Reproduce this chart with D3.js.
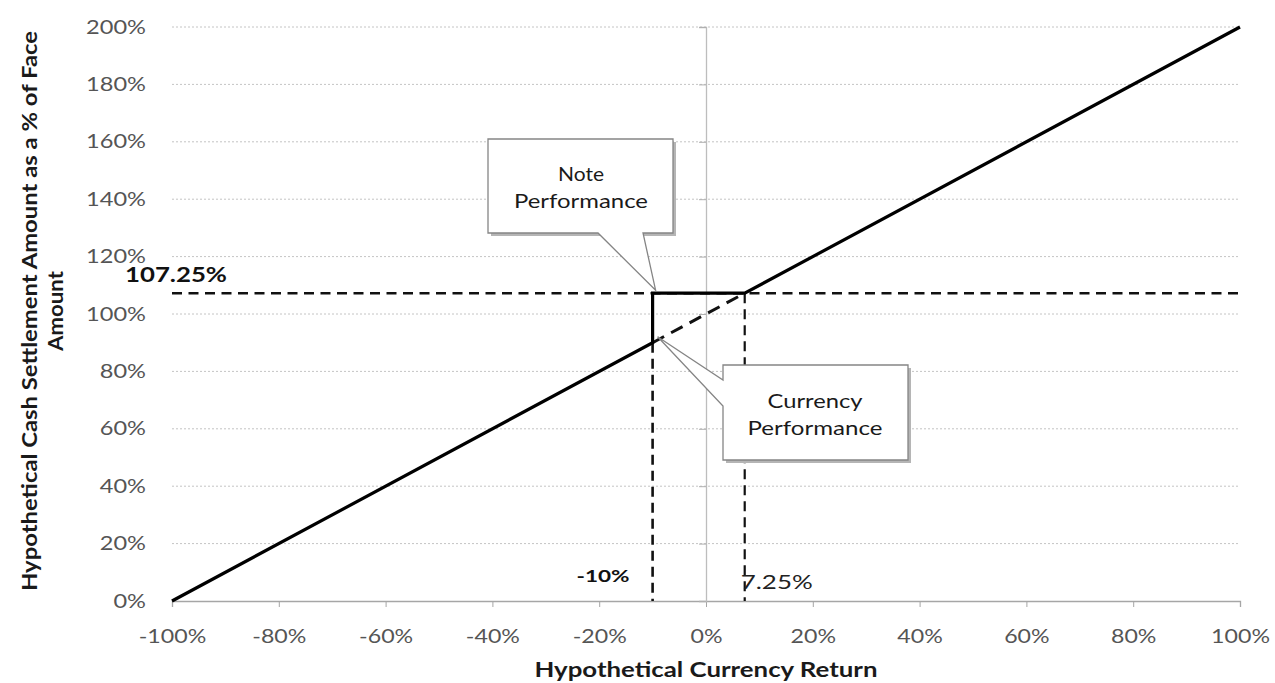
<!DOCTYPE html>
<html>
<head>
<meta charset="utf-8">
<script src="https://cdn.jsdelivr.net/npm/d3@7"></script>
<style>
  html, body { margin: 0; padding: 0; background: #fff; }
  svg { display: block; }
  text { font-family: Lato, "Open Sans", "Liberation Sans", sans-serif; }
</style>
</head>
<body>
<svg id="chart" width="1275" height="683"></svg>
<script>
// ---------------- data ----------------
const xTicks = [-100, -80, -60, -40, -20, 0, 20, 40, 60, 80, 100];
const xTickLabels = ["-100%", "-80%", "-60%", "-40%", "-20%", "0%", "20%", "40%", "60%", "80%", "100%"];
const yTicks = [0, 20, 40, 60, 80, 100, 120, 140, 160, 180, 200];
const yTickLabels = ["0%", "20%", "40%", "60%", "80%", "100%", "120%", "140%", "160%", "180%", "200%"];

// note performance (solid) and currency performance in the protected zone (dashed)
const noteX = [-100, -10, -10, 7.25, 100];
const noteY = [0, 90, 107.25, 107.25, 200];
const currencyGapX = [-10, 7.25];
const currencyGapY = [90, 107.25];

const capLevel = 107.25;      // horizontal dashed reference
const barrierReturn = -10;    // vertical dashed reference
const breakevenReturn = 7.25; // vertical dashed reference

const capLabel = "107.25%";
const barrierLabel = "-10%";
const breakevenLabel = "7.25%";
const xTitle = "Hypothetical Currency Return";
const yTitleLines = ["Hypothetical Cash Settlement Amount as a % of Face", "Amount"];
const noteCallout = ["Note", "Performance"];
const currencyCallout = ["Currency", "Performance"];

// ---------------- layout ----------------
const svg = d3.select("#chart");
const x = d3.scaleLinear().domain([-100, 100]).range([172, 1240]);
const y = d3.scaleLinear().domain([0, 200]).range([601, 27]);

function fitWidth(sel, w) {
  sel.attr("textLength", w).attr("lengthAdjust", "spacingAndGlyphs");
}
function stretch(sel, k) {
  sel.each(function () {
    const w = this.getComputedTextLength();
    this.setAttribute("textLength", w * k);
    this.setAttribute("lengthAdjust", "spacingAndGlyphs");
  });
}

// gridlines (dotted)
svg.append("g")
  .selectAll("line")
  .data(yTicks.filter(d => d > 0))
  .join("line")
  .attr("x1", x(-100)).attr("x2", x(100))
  .attr("y1", d => y(d)).attr("y2", d => y(d))
  .attr("stroke", "#c4c4c4").attr("stroke-width", 1)
  .attr("stroke-dasharray", "2,2");

// x axis (at 0%)
const xAxis = svg.append("g")
  .attr("transform", `translate(0,${y(0)})`)
  .call(d3.axisBottom(x).tickValues(xTicks).tickSize(6).tickPadding(29)
    .tickFormat((d, i) => xTickLabels[i]));
xAxis.select(".domain").attr("stroke", "#a6a6a6").attr("stroke-width", 1.3);
xAxis.selectAll(".tick line").attr("stroke", "#a6a6a6");
xAxis.selectAll(".tick text")
  .attr("font-size", 19).attr("fill", "#555").attr("dy", "0.35em");
stretch(xAxis.selectAll(".tick text"), 1.22);

// y axis line (at 0% return) with ticks
const yAxis = svg.append("g")
  .attr("transform", `translate(${x(0)},0)`)
  .call(d3.axisLeft(y).tickValues(yTicks).tickSize(7).tickFormat(""));
yAxis.select(".domain").attr("stroke", "#bdbdbd").attr("stroke-width", 1.3);
yAxis.selectAll(".tick line").attr("stroke", "#b0b0b0");

// y tick labels at far left
const yLab = svg.append("g")
  .selectAll("text")
  .data(yTicks)
  .join("text")
  .attr("x", 146)
  .attr("y", d => y(d))
  .attr("dy", "0.35em")
  .attr("text-anchor", "end")
  .attr("font-size", 19).attr("fill", "#555")
  .text((d, i) => yTickLabels[i]);
stretch(yLab, 1.24);

// reference dashed lines
svg.append("line")
  .attr("x1", x(-100)).attr("x2", x(100))
  .attr("y1", y(capLevel)).attr("y2", y(capLevel))
  .attr("stroke", "#111").attr("stroke-width", 2.6)
  .attr("stroke-dasharray", "10,6.5");
svg.append("line")
  .attr("x1", x(barrierReturn)).attr("x2", x(barrierReturn))
  .attr("y1", y(noteY[1])).attr("y2", y(0))
  .attr("stroke", "#111").attr("stroke-width", 2.6)
  .attr("stroke-dasharray", "10,6");
svg.append("line")
  .attr("x1", x(breakevenReturn)).attr("x2", x(breakevenReturn))
  .attr("y1", y(capLevel)).attr("y2", y(0))
  .attr("stroke", "#111").attr("stroke-width", 2.2)
  .attr("stroke-dasharray", "10,6");

// currency performance (dashed) within the protected zone
const line = d3.line().x(d => x(d[0])).y(d => y(d[1]));
svg.append("path")
  .datum(currencyGapX.map((v, i) => [v, currencyGapY[i]]))
  .attr("d", line)
  .attr("fill", "none").attr("stroke", "#111").attr("stroke-width", 3)
  .attr("stroke-dasharray", "13,8");

// note performance (solid)
svg.append("path")
  .datum(noteX.map((v, i) => [v, noteY[i]]))
  .attr("d", line)
  .attr("fill", "none").attr("stroke", "#000").attr("stroke-width", 3.2)
  .attr("stroke-linejoin", "miter");

// value labels
fitWidth(svg.append("text")
  .attr("x", 125).attr("y", y(capLevel) - 11)
  .attr("font-size", 20).attr("font-weight", "bold").attr("fill", "#111")
  .text(capLabel), 102);
fitWidth(svg.append("text")
  .attr("x", x(barrierReturn) - 23).attr("y", 582)
  .attr("text-anchor", "end")
  .attr("font-size", 17).attr("font-weight", "bold").attr("fill", "#111")
  .text(barrierLabel), 53);
fitWidth(svg.append("text")
  .attr("x", x(breakevenReturn) - 4).attr("y", 589)
  .attr("font-size", 19).attr("fill", "#222")
  .text(breakevenLabel), 72);

// callouts
function callout(pathD, shadowD, lines, cx, baselines, widths) {
  const g = svg.append("g");
  g.append("path").attr("d", shadowD).attr("fill", "#b5b5b5").attr("stroke", "none");
  g.append("path").attr("d", pathD).attr("fill", "#fff")
    .attr("stroke", "#858585").attr("stroke-width", 1.3);
  lines.forEach((t, i) => {
    fitWidth(g.append("text")
      .attr("x", cx).attr("y", baselines[i])
      .attr("text-anchor", "middle")
      .attr("font-size", 19).attr("fill", "#1a1a1a")
      .text(t), widths[i]);
  });
}
// Note Performance callout, pointing to the upper corner of the step
{
  const tx = x(barrierReturn) + 3, ty = y(capLevel) - 3;
  const L = 488, R = 673, T = 139, B = 233;
  const d = `M${L},${T}H${R}V${B}H643L${tx},${ty}L598,${B}H${L}Z`;
  const s = `M${L + 3},${T + 3}H${R + 3}V${B + 3}H${L + 3}Z`;
  callout(d, s, noteCallout, 581, [181, 208], [46, 134]);
}
// Currency Performance callout, pointing to the lower corner of the step
{
  const tx = x(barrierReturn) + 5, ty = y(noteY[1]) - 6;
  const L = 723, R = 908, T = 365, B = 460;
  const d = `M${L},${T}H${R}V${B}H${L}V406L${tx},${ty}L${L},380Z`;
  const s = `M${L + 3},${T + 3}H${R + 3}V${B + 3}H${L + 3}Z`;
  callout(d, s, currencyCallout, 815, [408, 435], [95, 135]);
}

// axis titles
fitWidth(svg.append("text")
  .attr("x", x(0)).attr("y", 677)
  .attr("text-anchor", "middle")
  .attr("font-size", 20).attr("font-weight", "bold").attr("fill", "#1a1a1a")
  .text(xTitle), 343);

const yT = svg.append("g").attr("transform", "translate(0,311) rotate(-90)");
fitWidth(yT.append("text")
  .attr("x", 0).attr("y", 37)
  .attr("text-anchor", "middle")
  .attr("font-size", 20).attr("font-weight", "bold").attr("fill", "#1a1a1a")
  .text(yTitleLines[0]), 560);
fitWidth(yT.append("text")
  .attr("x", 0).attr("y", 63)
  .attr("text-anchor", "middle")
  .attr("font-size", 20).attr("font-weight", "bold").attr("fill", "#1a1a1a")
  .text(yTitleLines[1]), 80);
</script>
</body>
</html>
